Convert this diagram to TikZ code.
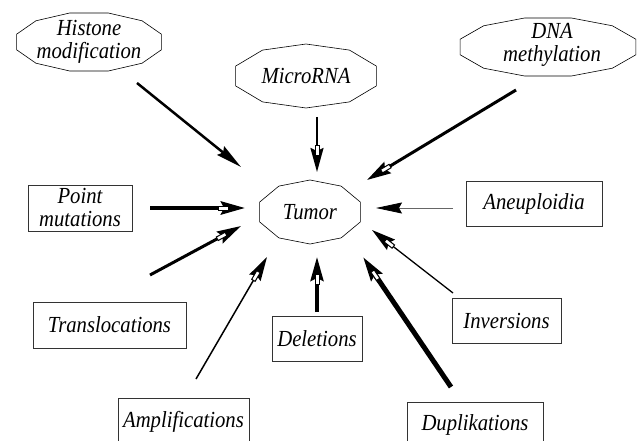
\documentclass[tikz,border=0pt]{standalone}
\usepackage{fontspec}
\setmainfont{Liberation Serif}[FakeStretch=0.9]
\usetikzlibrary{arrows.meta, decorations.markings}

\tikzset{
  txt/.style={font={\fontsize{23}{23}\selectfont\itshape}, inner sep=0pt, align=center},
  box/.style={txt, draw=black!80, line width=0.8pt},
  fillhead/.style={-{Stealth[length=26pt, width=11pt, inset=3pt, color=black]}},
  openhead/.style={-{Stealth[length=24pt, width=13pt, inset=3pt]},
    postaction={decorate, decoration={markings, mark=at position 1 with
      {\draw[fill=white, line width=1pt] (-27pt,-2pt) rectangle (-17pt,2pt);}}}},
}

\begin{document}
\begin{tikzpicture}[x=1pt, y=-1pt]

  \useasboundingbox (0,0) rectangle (639,441);
  \clip (0,0) rectangle (639,441);

  % --- 1. ellipses ---
  \node[txt] (hist)  at (89,42)  {Histone\\modification};
  \node[txt] (mirna) at (306,76) {MicroRNA};
  \node[txt] (dna)   at (552,45) {DNA\\methylation};
  \node[txt] (tumor) at (310,212) {Tumor};

  \draw[line width=0.6pt, shift={(hist.center)}]  plot[samples=13, domain=15:375] ({75*cos(\x)}, {30*sin(\x)}) -- cycle;
  \draw[line width=0.6pt, shift={(mirna.center)}] plot[samples=11, domain=90:450] ({74*cos(\x)}, {32*sin(\x)}) -- cycle;
  \draw[line width=0.6pt, shift={(548,47)}]       plot[samples=13, domain=15:375] ({91*cos(\x)}, {30*sin(\x)}) -- cycle;
  \draw[line width=0.6pt, shift={(tumor.center)}] plot[samples=11, domain=90:450] ({53*cos(\x)}, {32*sin(\x)}) -- cycle;

  % --- 2. boxes ---
  \node[box, minimum width=104, minimum height=46] (pm)    at (80,208)    {Point\\mutations};
  \node[box, minimum width=153, minimum height=46] (trans) at (109.5,325) {Translocations};
  \node[box, minimum width=136, minimum height=45] (aneu)  at (534,203.5) {Aneuploidia};
  \node[box, minimum width=90,  minimum height=45] (del)   at (317,338.5) {Deletions};
  \node[box, minimum width=109, minimum height=45] (inv)   at (506.5,320.5) {Inversions};
  \node[box, minimum width=131, minimum height=48] (amp)   at (183.5,422) {Amplifications};
  \node[box, minimum width=136, minimum height=46] (dup)   at (475,425)   {Duplikations};

  % --- 3. arrow ends ---
  \coordinate (hist-a)  at (137,83);  \coordinate (hist-b)  at (241,167);
  \coordinate (mirna-a) at (317,117); \coordinate (mirna-b) at (317,172);
  \coordinate (dna-a)   at (516,90);  \coordinate (dna-b)   at (367,180);
  \coordinate (pm-a)    at (150,208); \coordinate (pm-b)    at (245,208);
  \coordinate (trans-a) at (150,275); \coordinate (trans-b) at (241,226);
  \coordinate (aneu-a)  at (453,208); \coordinate (aneu-b)  at (376,208);
  \coordinate (inv-a)   at (453,293); \coordinate (inv-b)   at (372,230);
  \coordinate (dup-a)   at (451,387); \coordinate (dup-b)   at (363,257);
  \coordinate (del-a)   at (317,312); \coordinate (del-b)   at (317,257);
  \coordinate (amp-a)   at (196,379); \coordinate (amp-b)   at (267,257);

  % --- 4. arrows ---
  \draw[fillhead, line width=2.5pt] (hist-a) -- (hist-b);
  \draw[openhead, line width=2pt]   (mirna-a) -- (mirna-b);
  \draw[openhead, line width=3pt]   (dna-a) -- (dna-b);
  \draw[openhead, line width=4pt]   (pm-a) -- (pm-b);
  \draw[openhead, line width=3pt]   (trans-a) -- (trans-b);
  \draw[fillhead, line width=0.8pt, draw=black!60] (aneu-a) -- (aneu-b);
  \draw[openhead, line width=1.3pt] (inv-a) -- (inv-b);
  \draw[openhead, line width=5pt]   (dup-a) -- (dup-b);
  \draw[openhead, line width=3.5pt] (del-a) -- (del-b);
  \draw[openhead, line width=1.5pt] (amp-a) -- (amp-b);

\end{tikzpicture}
\end{document}
